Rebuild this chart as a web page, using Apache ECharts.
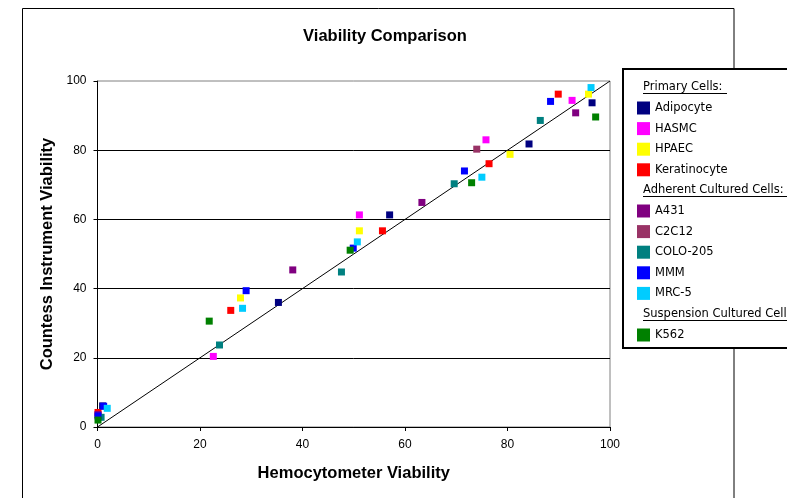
<!DOCTYPE html>
<html>
<head>
<meta charset="utf-8">
<script src="https://cdn.jsdelivr.net/npm/echarts@6/dist/echarts.min.js"></script>
<style>
  html, body { margin: 0; padding: 0; background: #fff; }
  #chart { width: 787px; height: 498px; }
</style>
</head>
<body>
<div id="chart"></div>
<script>
// values: [hemocytometer, countess]
const adipocyte    = [[1.0, 6.1], [35.3, 36.0], [57.0, 61.3], [84.2, 81.8], [96.5, 93.7]];
const hasmc        = [[22.6, 20.4], [51.1, 61.3], [75.8, 83.0], [92.6, 94.4]];
const hpaec        = [[27.9, 37.3], [51.1, 56.7], [80.5, 78.8], [95.8, 96.2]];
const keratinocyte = [[0.1, 4.2], [26.0, 33.7], [55.6, 56.7], [76.4, 76.1], [89.9, 96.2]];
const a431         = [[0.1, 3.6], [38.1, 45.4], [63.3, 64.9], [93.3, 90.8]];
const c2c12        = [[74.0, 80.3]];
const colo205      = [[0.7, 2.8], [23.8, 23.7], [47.6, 44.8], [69.6, 70.3], [86.4, 88.6]];
const mmm          = [[0.1, 3.2], [1.2, 6.0], [29.0, 39.4], [49.9, 51.7], [71.6, 74.0], [88.4, 94.1]];
const mrc5         = [[1.9, 5.4], [28.3, 34.3], [50.7, 53.5], [75.0, 72.2], [96.3, 98.1]];
const k562         = [[0.1, 2.0], [21.8, 30.6], [49.3, 51.1], [73.0, 70.6], [97.2, 89.6]];
const identityLine = [[0, 0], [100, 100]];

const primaryCells    = ['Adipocyte', 'HASMC', 'HPAEC', 'Keratinocyte'];
const adherentCells   = ['A431', 'C2C12', 'COLO-205', 'MMM', 'MRC-5'];
const suspensionCells = ['K562'];

const groups = [
  ['Adipocyte', adipocyte, '#000080'],
  ['HASMC', hasmc, '#FF00FF'],
  ['HPAEC', hpaec, '#FFFF00'],
  ['Keratinocyte', keratinocyte, '#FF0000'],
  ['A431', a431, '#800080'],
  ['C2C12', c2c12, '#993366'],
  ['COLO-205', colo205, '#008080'],
  ['MMM', mmm, '#0000FF'],
  ['MRC-5', mrc5, '#00CCFF'],
  ['K562', k562, '#008000']
];

const AXIS_FONT = 'Liberation Sans, Arial, sans-serif';
const LEGEND_FONT = 'DejaVu Sans, Tahoma, sans-serif';

const chart = echarts.init(document.getElementById('chart'), null, { renderer: 'canvas' });

const legendBase = {
  orient: 'vertical',
  left: 637,
  padding: 0,
  icon: 'rect',
  itemWidth: 13,
  itemHeight: 13,
  itemGap: 7.6,
  selectedMode: false,
  z: 6,
  textStyle: { fontFamily: LEGEND_FONT, fontSize: 11.5, color: '#000', lineHeight: 13 }
};

const header = (txt, y, w) => [
  { type: 'text', z: 6, left: 643, top: y - 7,
    style: { text: txt, fontFamily: LEGEND_FONT, fontSize: 11.5, fill: '#000' } },
  { type: 'line', z: 6, shape: { x1: 643, y1: y + 5.5, x2: 643 + w, y2: y + 5.5 },
    style: { stroke: '#000', lineWidth: 1 } }
];

const scatterSeries = groups.map(([name, data, color]) => ({
  name,
  type: 'scatter',
  data,
  symbol: 'rect',
  symbolSize: 7,
  itemStyle: { color, opacity: 1 },
  z: 3
}));

chart.setOption({
  animation: false,
  backgroundColor: '#fff',
  title: {
    text: 'Viability Comparison',
    left: 380,
    textAlign: 'center',
    top: 23,
    textStyle: { fontFamily: AXIS_FONT, fontSize: 16.5, fontWeight: 'bold', color: '#000' }
  },
  grid: {
    left: 97.5, top: 81, right: 177, bottom: 71,
    show: true, borderColor: '#808080', borderWidth: 1, backgroundColor: 'transparent'
  },
  xAxis: {
    type: 'value', min: 0, max: 100, interval: 20,
    name: 'Hemocytometer Viability',
    nameLocation: 'middle', nameGap: 38,
    nameTextStyle: { fontFamily: AXIS_FONT, fontSize: 16.5, fontWeight: 'bold', color: '#000' },
    axisLine: { show: true, lineStyle: { color: '#000', width: 1 } },
    axisTick: { show: true, inside: false, length: 4, lineStyle: { color: '#000' } },
    axisLabel: { fontFamily: AXIS_FONT, fontSize: 12, color: '#000', margin: 12 },
    splitLine: { show: false }
  },
  yAxis: {
    type: 'value', min: 0, max: 100, interval: 20,
    name: 'Countess Instrument Viability',
    nameLocation: 'middle', nameGap: 42,
    nameTextStyle: { fontFamily: AXIS_FONT, fontSize: 16.5, fontWeight: 'bold', color: '#000' },
    axisLine: { show: true, lineStyle: { color: '#000', width: 1 } },
    axisTick: { show: true, inside: false, length: 4, lineStyle: { color: '#000' } },
    axisLabel: { fontFamily: AXIS_FONT, fontSize: 12, color: '#000', margin: 11 },
    splitLine: { show: true, showMaxLine: false, lineStyle: { color: '#000', width: 1 } }
  },
  legend: [
    Object.assign({}, legendBase, { top: 101.5, data: primaryCells }),
    Object.assign({}, legendBase, { top: 204.5, data: adherentCells }),
    Object.assign({}, legendBase, { top: 328.5, data: suspensionCells })
  ],
  graphic: [
    { type: 'rect', z: 1, silent: true,
      shape: { x: 22.5, y: 8.5, width: 711.5, height: 520 },
      style: { fill: 'none', stroke: '#000', lineWidth: 1 } },
    { type: 'rect', z: 5, silent: true,
      shape: { x: 623, y: 69, width: 200, height: 279 },
      style: { fill: '#fff', stroke: '#000', lineWidth: 2 } },
    ...header('Primary Cells:', 88, 84),
    ...header('Adherent Cultured Cells:', 191, 148),
    ...header('Suspension Cultured Cells:', 315, 160)
  ],
  series: [
    {
      name: 'y = x',
      type: 'line',
      data: identityLine,
      symbol: 'none',
      lineStyle: { color: '#000', width: 1 },
      z: 2,
      silent: true
    },
    ...scatterSeries
  ]
});
</script>
</body>
</html>
